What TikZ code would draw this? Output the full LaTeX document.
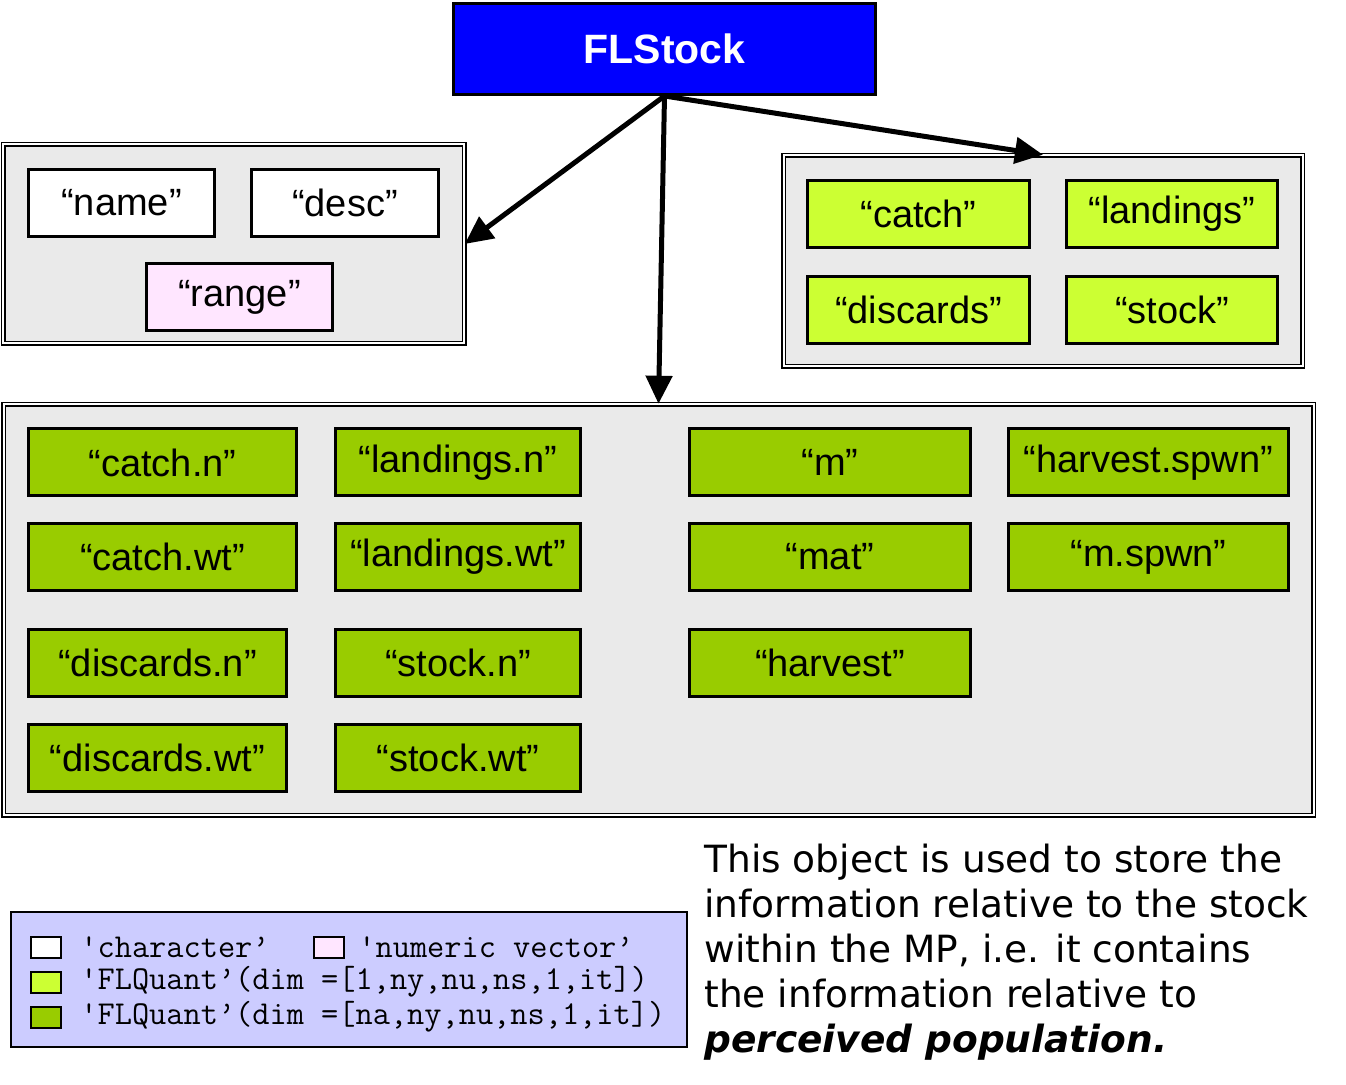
\documentclass[tikz,border=0pt]{standalone}
\usepackage{fontspec}
\setmainfont{Liberation Sans}
\newfontfamily\notefont{DejaVu Sans}
\usetikzlibrary{arrows.meta}
\definecolor{stockblue}{HTML}{0000FF}
\definecolor{groupgrey}{HTML}{EAEAEA}
\definecolor{quantlight}{HTML}{CCFF33}
\definecolor{quantdark}{HTML}{99CC00}
\definecolor{numpink}{HTML}{FFE6FF}
\definecolor{legendblue}{HTML}{CCCCFF}
\tikzset{
  group/.style={draw,double,line width=0.75pt,double distance=1pt,fill=groupgrey,inner sep=0pt},
  slot/.style={draw,line width=1.5pt,inner sep=0pt,minimum height=33.5pt,font=\fontsize{19}{23}\selectfont},
  link/.style={line width=2.5pt,-{Triangle[length=14pt,width=13pt]}},
  swatch/.style={draw,line width=1pt,minimum width=15pt,minimum height=10.5pt,inner sep=0pt},
  legendtext/.style={anchor=west,inner sep=0pt,font=\ttfamily\fontsize{16.7}{19}\selectfont}
}
\begin{document}
\begin{tikzpicture}[x=0.5pt,y=-0.5pt]
    \useasboundingbox (0,0) rectangle (1346,1085);
    \node[draw,line width=1.5pt,fill=stockblue,minimum width=211pt,minimum height=45.5pt,
          text=white,font=\bfseries\fontsize{20.5}{24}\selectfont](top)at(664.5,49){FLStock};
    \node[group,minimum width=230.5pt,minimum height=99.5pt](meta)at(233.5,244){};
    \node[group,minimum width=259.5pt,minimum height=105.5pt](total)at(1043,261){};
    \node[group,minimum width=655pt,minimum height=205.5pt](age)at(658.5,610){};
    \node[slot,fill=white,minimum width=93pt](name)at(121.5,203){“name”};
    \node[slot,fill=white,minimum width=93.5pt](desc)at(345,203){“desc”};
    \node[slot,fill=numpink,minimum width=93pt](range)at(239.5,297){“range”};
    \node[slot,fill=quantlight,minimum width=111pt](catch)at(918.5,214){“catch”};
    \node[slot,fill=quantlight,minimum width=105.5pt](landings)at(1172,214){“landings”};
    \node[slot,fill=quantlight,minimum width=111pt](discards)at(918.5,310){“discards”};
    \node[slot,fill=quantlight,minimum width=105.5pt](stock)at(1172,310){“stock”};
    \node[slot,fill=quantdark,minimum width=134pt](catchn)at(162.5,462.5){“catch.n”};
    \node[slot,fill=quantdark,minimum width=134pt](catchwt)at(162.5,557){“catch.wt”};
    \node[slot,fill=quantdark,minimum width=129pt](discardsn)at(157.5,663){“discards.n”};
    \node[slot,fill=quantdark,minimum width=129pt](discardswt)at(157.5,758){“discards.wt”};
    \node[slot,fill=quantdark,minimum width=122.5pt](landingsn)at(458,462.5){“landings.n”};
    \node[slot,fill=quantdark,minimum width=122.5pt](landingswt)at(458,557){“landings.wt”};
    \node[slot,fill=quantdark,minimum width=122.5pt](stockn)at(458,663){“stock.n”};
    \node[slot,fill=quantdark,minimum width=122.5pt](stockwt)at(458,758){“stock.wt”};
    \node[slot,fill=quantdark,minimum width=140.5pt](m)at(830,462.5){“m”};
    \node[slot,fill=quantdark,minimum width=140.5pt](mat)at(830,557){“mat”};
    \node[slot,fill=quantdark,minimum width=140.5pt](harvest)at(830,663){“harvest”};
    \node[slot,fill=quantdark,minimum width=140pt](harvestspwn)at(1148.5,462.5){“harvest.spwn”};
    \node[slot,fill=quantdark,minimum width=140pt](mspwn)at(1148.5,557){“m.spwn”};
    \draw[link](top.south)--(meta.east);
    \draw[link](top.south)--(age.north);
    \draw[link](top.south)--(total.north);
    \node[draw,line width=1pt,fill=legendblue,minimum width=338pt,minimum height=67.5pt](legend)at(349,979.5){};
    \node[swatch,fill=white](keychar)at(46,947){};
    \node[legendtext](txtchar)at(80,947){'character’};
    \node[swatch,fill=numpink](keynum)at(328.5,947){};
    \node[legendtext](txtnum)at(358,947){'numeric vector’};
    \node[swatch,fill=quantlight](keylight)at(46,982){};
    \node[legendtext](txtlight)at(80,982){'FLQuant’(dim =[1,ny,nu,ns,1,it])};
    \node[swatch,fill=quantdark](keydark)at(46,1017){};
    \node[legendtext](txtdark)at(80,1017){'FLQuant’(dim =[na,ny,nu,ns,1,it])};
    \node[anchor=north west,align=left,inner sep=0pt,font=\notefont\fontsize{18.75}{22.5}\selectfont](note)at(704,844)
        {This object is used to store the\\information relative to the stock\\within the MP, i.e. it contains\\the information relative to\\{\bfseries\itshape perceived population.}};
\end{tikzpicture}
\end{document}
